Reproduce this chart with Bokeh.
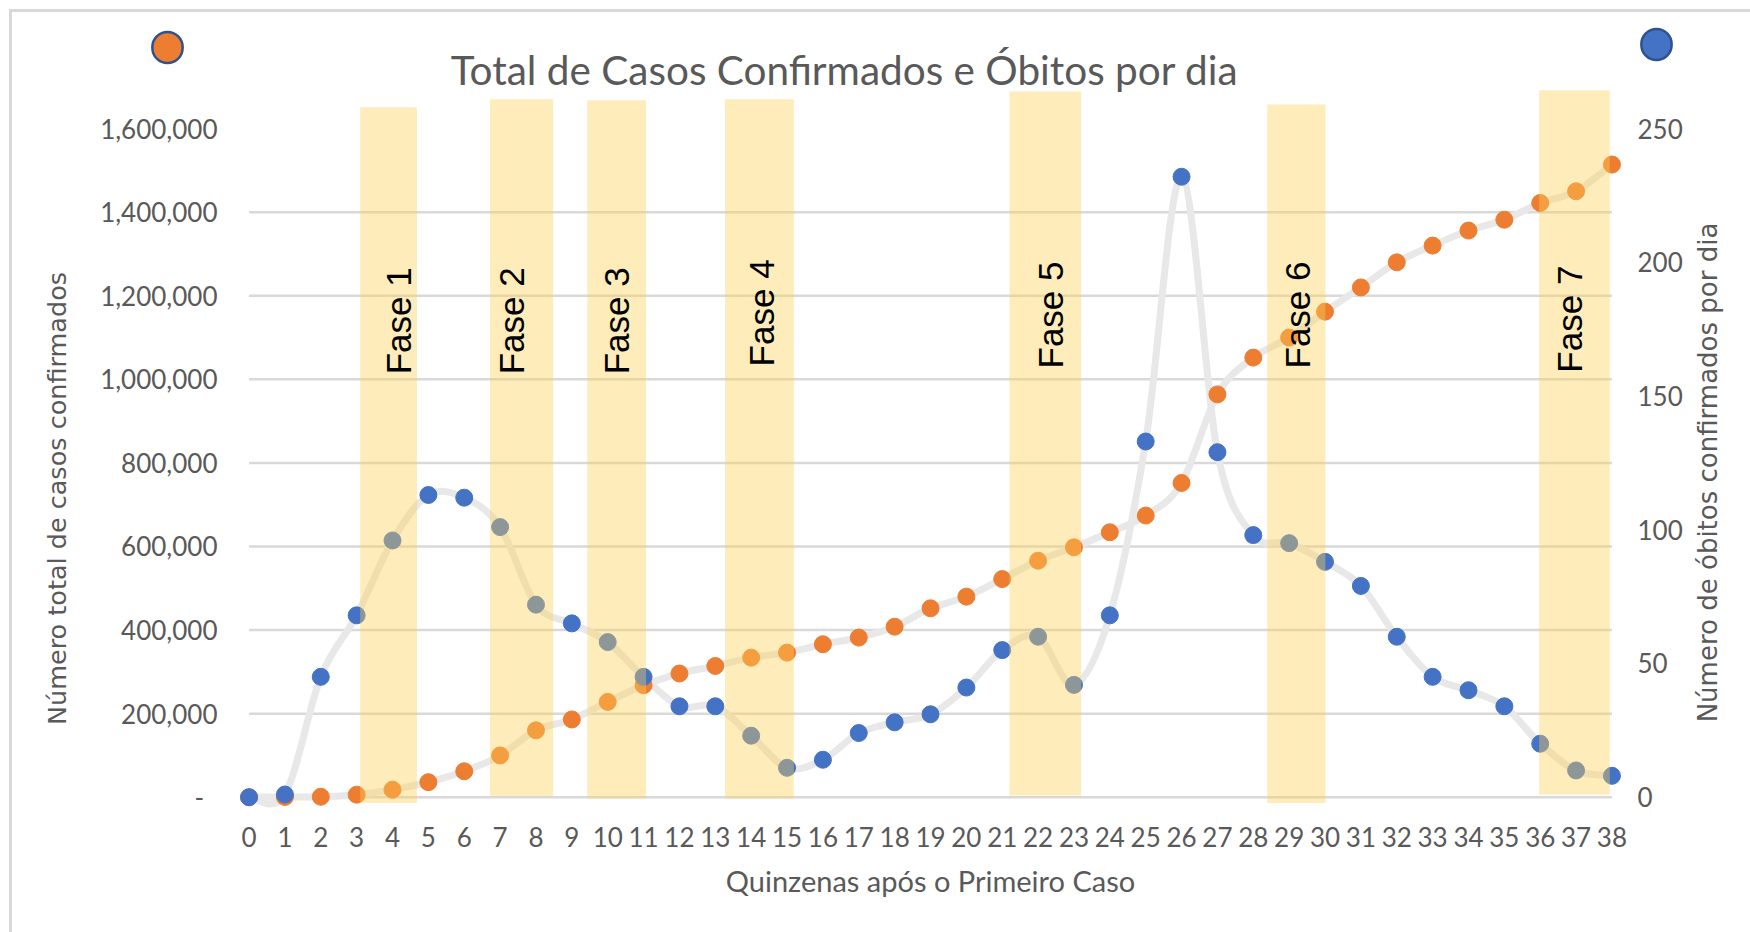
import math
from bokeh.plotting import figure
from bokeh.models import Range1d, LinearAxis, FixedTicker, NumeralTickFormatter, Label
from bokeh.core.properties import value
from bokeh.embed import file_html
from bokeh.resources import INLINE

# ---------------- data ----------------
quinzenas = list(range(39))
casos = [0, 500, 1000, 6000, 18000, 36000, 62000, 100000, 160000, 186000,
         228000, 268000, 296000, 314000, 334000, 346000, 366000, 382000, 408000, 452000,
         480000, 522000, 566000, 598000, 634000, 674000, 752000, 964000, 1052000, 1100000,
         1162000, 1220000, 1280000, 1320000, 1356000, 1382000, 1422000, 1450000, 1514000]
obitos = [0, 1, 45, 68, 96, 113, 112, 101, 72, 65,
          58, 45, 34, 34, 23, 11, 14, 24, 28, 31,
          41, 55, 60, 42, 68, 133, 232, 129, 98, 95,
          88, 79, 60, 45, 40, 34, 20, 10, 8]

casos_ticks = [0, 200000, 400000, 600000, 800000, 1000000, 1200000, 1400000, 1600000]
obitos_ticks = [0, 50, 100, 150, 200, 250]

fase_nomes = ["Fase 1", "Fase 2", "Fase 3", "Fase 4", "Fase 5", "Fase 6", "Fase 7"]
fase_inicio = [3.10, 6.72, 9.43, 13.27, 21.20, 28.39, 35.97]
fase_fim = [4.68, 8.48, 11.07, 15.19, 23.20, 30.01, 37.94]
fase_topo = [1651000, 1670000, 1668000, 1670000, 1689000, 1658000, 1692000]
fase_base = [-14000, 2000, -3000, -3000, 4000, -14000, 6500]
fase_rot_x = [4.17, 7.33, 10.25, 14.28, 22.34, 29.24, 36.82]
fase_rot_y = [1012000, 1012000, 1012000, 1031000, 1026000, 1026000, 1016000]

titulo = "Total de Casos Confirmados e Óbitos por dia"
titulo_x = "Quinzenas após o Primeiro Caso"
titulo_y1 = "Número total de casos confirmados"
titulo_y2 = "Número de óbitos confirmados por dia"

# ---------------- figure ----------------
Y0, Y1 = -36600, 1696000
RATIO = 1600000 / 250

p = figure(width=1750, height=932,
           x_range=Range1d(-0.35, 38.35), y_range=Range1d(Y0, Y1),
           output_backend="svg", toolbar_location=None,
           min_border_left=236, min_border_right=126,
           min_border_top=88, min_border_bottom=120)
p.extra_y_ranges = {"obitos": Range1d(Y0 / RATIO, Y1 / RATIO)}
p.outline_line_color = None
p.grid.visible = False
p.background_fill_color = "white"
p.border_fill_color = None
# thin light-gray chart-area edge (top and left), drawn behind the transparent border
p.styles = {"box-shadow": "inset 9px 9px 0 0 #FFFFFF, inset 12px 12px 0 0 #D9D9D9",
            "background-color": "#FFFFFF"}

TICK_FONT = "Lato"
GRAY = "#595959"

ax_r = LinearAxis(y_range_name="obitos")
p.add_layout(ax_r, "right")

for ax in [p.xaxis[0], p.yaxis[0], ax_r]:
    ax.axis_line_color = None
    ax.major_tick_line_color = None
    ax.minor_tick_line_color = None
    ax.major_label_text_font = TICK_FONT
    ax.major_label_text_font_size = "26px"
    ax.major_label_text_color = GRAY

p.xaxis[0].ticker = FixedTicker(ticks=quinzenas)
p.xaxis[0].major_label_standoff = 8
p.xaxis[0].axis_label = titulo_x
p.xaxis[0].axis_label_text_font = TICK_FONT
p.xaxis[0].axis_label_text_font_size = "29px"
p.xaxis[0].axis_label_text_font_style = "normal"
p.xaxis[0].axis_label_text_color = GRAY
p.xaxis[0].axis_label_standoff = 13

p.yaxis[0].ticker = FixedTicker(ticks=casos_ticks)
p.yaxis[0].formatter = NumeralTickFormatter(format="0,0")
p.yaxis[0].major_label_overrides = {0: "-\u00a0\u00a0"}
p.yaxis[0].major_label_standoff = 13

ax_r.ticker = FixedTicker(ticks=obitos_ticks)
ax_r.major_label_standoff = 7

# gridlines (from the left-axis ticks, below the top tick)
grid_vals = casos_ticks[:-1]
p.segment(x0=[quinzenas[0]] * len(grid_vals), x1=[quinzenas[-1]] * len(grid_vals),
          y0=grid_vals, y1=grid_vals, line_color="#D9D9D9", line_width=2.5)


# smoothed connector lines (Catmull-Rom -> cubic Bezier through the data points)
def bezier_parts(xs, ys):
    n = len(xs)
    out = dict(x0=[], y0=[], x1=[], y1=[], cx0=[], cy0=[], cx1=[], cy1=[])
    for i in range(n - 1):
        a = i - 1 if i > 0 else i
        d = i + 2 if i + 2 < n else i + 1
        out["x0"].append(xs[i]); out["y0"].append(ys[i])
        out["x1"].append(xs[i + 1]); out["y1"].append(ys[i + 1])
        out["cx0"].append(xs[i] + (xs[i + 1] - xs[a]) / 6)
        out["cy0"].append(ys[i] + (ys[i + 1] - ys[a]) / 6)
        out["cx1"].append(xs[i + 1] - (xs[d] - xs[i]) / 6)
        out["cy1"].append(ys[i + 1] - (ys[d] - ys[i]) / 6)
    return out


LINE = "#E8E8E8"
p.bezier(**bezier_parts(quinzenas, casos), line_color=LINE, line_width=7, line_cap="round")
p.bezier(**bezier_parts(quinzenas, obitos), line_color=LINE, line_width=7, line_cap="round",
         y_range_name="obitos")

p.scatter(quinzenas, casos, size=17, fill_color="#ED7D31", line_color="#ED7D31")
p.scatter(quinzenas, obitos, size=17, fill_color="#4472C4", line_color="#4472C4",
          y_range_name="obitos")

# phase bands
p.quad(left=fase_inicio, right=fase_fim, bottom=fase_base, top=fase_topo,
       fill_color="#FFD055", fill_alpha=0.4, line_color=None)
p.text(x=fase_rot_x, y=fase_rot_y, text=fase_nomes, angle=math.pi / 2,
       text_align="left", text_baseline="middle",
       text_font=value("Liberation Sans"), text_font_size="35px", text_color="black")

# title and axis titles, placed in the side panels (screen units relative to each panel)
p.add_layout(Label(x=608, y=19, x_units="screen", y_units="screen", text=titulo,
                   text_align="center", text_baseline="alphabetic",
                   text_font="Lato", text_font_size="40.5px", text_color=GRAY), "above")
p.add_layout(Label(x=1420, y=-5, x_units="screen", y_units="screen", text="\u00a0",
                   text_font_size="1px", text_align="center", text_baseline="middle",
                   background_fill_color="#4472C4", border_line_color="#2F528F",
                   border_line_width=2.5, padding=15, border_radius=16), "above")

p.add_layout(Label(x=-11, y=314, x_units="screen", y_units="screen", text=titulo_y1,
                   angle=math.pi / 2, text_align="center", text_baseline="middle",
                   text_font="DejaVu Sans", text_font_size="25.5px", text_color=GRAY), "left")
p.add_layout(Label(x=130, y=765, x_units="screen", y_units="screen", text="\u00a0",
                   text_font_size="1px", text_align="center", text_baseline="middle",
                   background_fill_color="#ED7D31", border_line_color="#2F528F",
                   border_line_width=2.5, padding=15, border_radius=16), "left")

p.add_layout(Label(x=22, y=340, x_units="screen", y_units="screen", text=titulo_y2,
                   angle=math.pi / 2, text_align="center", text_baseline="middle",
                   text_font="DejaVu Sans", text_font_size="26px", text_color=GRAY), "right")

open("out.html", "w").write(file_html(p, INLINE))
